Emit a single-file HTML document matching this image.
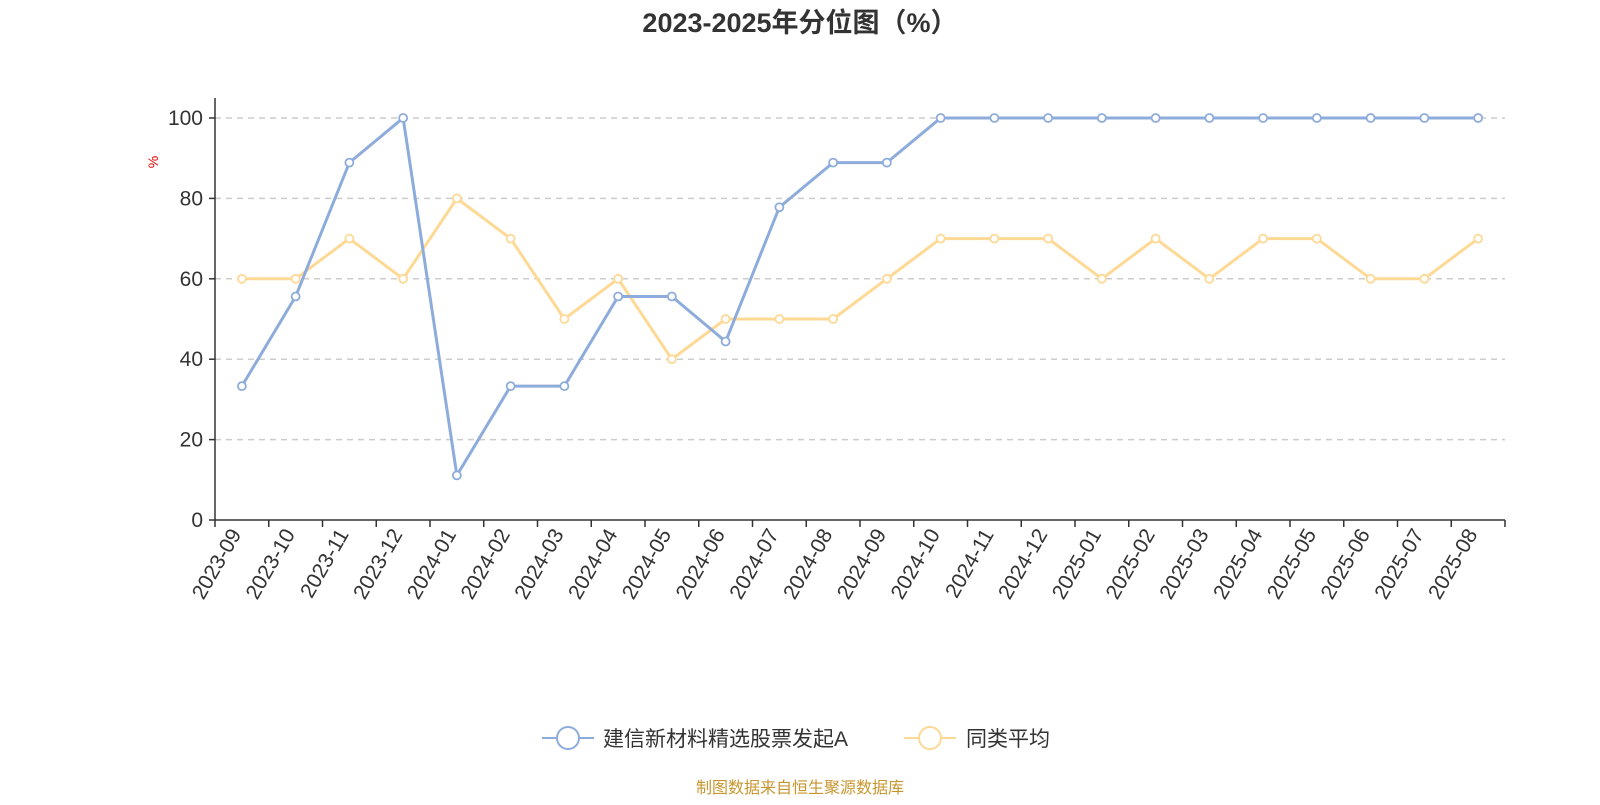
<!DOCTYPE html>
<html><head><meta charset="utf-8"><style>
body{margin:0;background:#fff;width:1600px;height:800px;overflow:hidden;font-family:"Liberation Sans","Noto Sans CJK SC",sans-serif}
</style></head><body>
<svg id="chart" width="1600" height="800" xmlns="http://www.w3.org/2000/svg">
<text x="800" y="32" text-anchor="middle" font-size="27" font-weight="bold" fill="#333" font-family="Liberation Sans, Noto Sans CJK SC, sans-serif">2023-2025年分位图（%）</text>
<text transform="translate(158,162) rotate(-90)" text-anchor="middle" font-size="14" fill="#e00">%</text>
<g id="grid"></g><g id="axes"></g><g id="series"></g>
<g>
<g>
<line x1="542" y1="738" x2="594" y2="738" stroke="#8eacdb" stroke-width="2"/>
<circle cx="568" cy="738" r="11" fill="#fff" stroke="#8eacdb" stroke-width="2"/>
<text x="603" y="746" font-size="21" fill="#333">建信新材料精选股票发起A</text></g>
<g>
<line x1="904" y1="738" x2="956" y2="738" stroke="#fdd995" stroke-width="2"/>
<circle cx="930" cy="738" r="11" fill="#fff" stroke="#fdd995" stroke-width="2"/>
<text x="966" y="746" font-size="21" fill="#333">同类平均</text></g>
</g>
<text x="800" y="793" text-anchor="middle" font-size="16" fill="#c8962e">制图数据来自恒生聚源数据库</text>
</svg>
<script>
const categories=["2023-09","2023-10","2023-11","2023-12","2024-01","2024-02","2024-03","2024-04","2024-05","2024-06","2024-07","2024-08","2024-09","2024-10","2024-11","2024-12","2025-01","2025-02","2025-03","2025-04","2025-05","2025-06","2025-07","2025-08"];
const fundValues=[33.3,55.6,88.9,100,11.1,33.3,33.3,55.6,55.6,44.4,77.8,88.9,88.9,100,100,100,100,100,100,100,100,100,100,100];
const peerValues=[60,60,70,60,80,70,50,60,40,50,50,50,60,70,70,70,60,70,60,70,70,60,60,70];
const yTicks=[0,20,40,60,80,100];
const NS="http://www.w3.org/2000/svg";
const L=215,R=1505,T=118,B=520;
const bw=(R-L)/categories.length;
const xPos=i=>L+bw*(i+0.5);
const yPos=v=>B-(v/100)*(B-T);
function mk(tag,attrs,parent){const e=document.createElementNS(NS,tag);for(const k in attrs)e.setAttribute(k,attrs[k]);parent.appendChild(e);return e;}
const grid=document.getElementById('grid'),axes=document.getElementById('axes'),series=document.getElementById('series');
yTicks.forEach(v=>{
 if(v>0){const g=mk('line',{x1:L,x2:R,y1:yPos(v),y2:yPos(v),stroke:'#ccc','stroke-dasharray':'6,5','stroke-width':1.5},grid);
 
 }
 const tk=mk('line',{x1:L-6,x2:L,y1:yPos(v),y2:yPos(v),stroke:'#333','stroke-width':1.5},axes);
 
 
 const t=mk('text',{x:L-12,y:yPos(v)+7,'text-anchor':'end','font-size':21,fill:'#333'},axes);
 t.textContent=v;
 
 
});
const ya=mk('line',{x1:L,x2:L,y1:T-20,y2:B,stroke:'#333','stroke-width':1.5},axes);


const xa=mk('line',{x1:L,x2:R,y1:B,y2:B,stroke:'#333','stroke-width':1.5},axes);


for(let i=0;i<=categories.length;i++){const x=L+bw*i;const tk=mk('line',{x1:x,x2:x,y1:B,y2:B+7,stroke:'#333','stroke-width':1.5},axes);
 
 }
categories.forEach((c,i)=>{const x=xPos(i);
 const t=mk('text',{x:x,y:B+14,'text-anchor':'end','font-size':21,fill:'#333',transform:`rotate(-60 ${x} ${B+14})`},axes);
 t.textContent=c;
 
 });
function drawSeries(vals,color,name){
 const p=mk('polyline',{points:vals.map((v,i)=>xPos(i)+','+yPos(v)).join(' '),fill:'none',stroke:color,'stroke-width':3},series);
 
 
 vals.forEach((v,i)=>{const c=mk('circle',{cx:xPos(i),cy:yPos(v),r:4,fill:'#fff',stroke:color,'stroke-width':1.8},series);
 
 });
}
drawSeries(peerValues,'#fdd995','peer-average');
drawSeries(fundValues,'#8eacdb','fund');
</script>
</body></html>
